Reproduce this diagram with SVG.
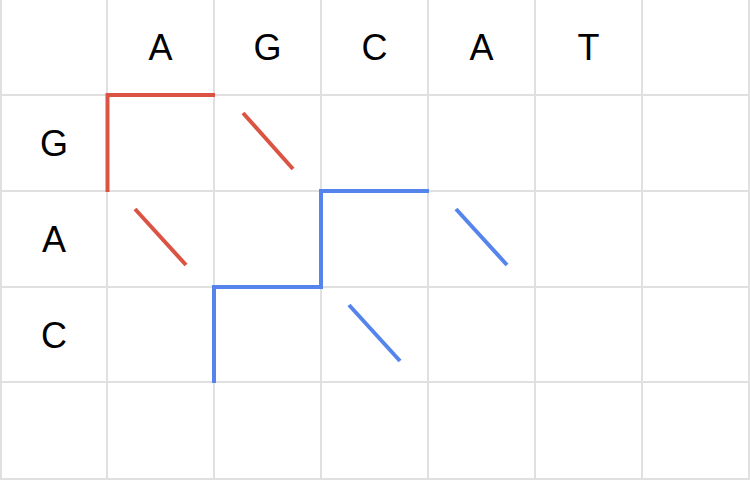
<svg xmlns="http://www.w3.org/2000/svg" width="750" height="480" viewBox="0 0 750 480">
<style>
.grid line{stroke:#e0e0e0;stroke-width:2}
text{font-family:"Liberation Sans",Arial,sans-serif;font-size:36px;fill:#000;text-anchor:middle}
.red{stroke:#db5443;stroke-width:4;fill:none}
.blue{stroke:#5585ec;stroke-width:4;fill:none}
</style>
<rect width="750" height="480" fill="#fff"/>
<g class="grid">
<line x1="1" y1="0" x2="1" y2="480"/>
<line x1="107" y1="0" x2="107" y2="480"/>
<line x1="214" y1="0" x2="214" y2="480"/>
<line x1="321" y1="0" x2="321" y2="480"/>
<line x1="428" y1="0" x2="428" y2="480"/>
<line x1="535" y1="0" x2="535" y2="480"/>
<line x1="642" y1="0" x2="642" y2="480"/>
<line x1="749" y1="0" x2="749" y2="480"/>
<line x1="0" y1="95" x2="750" y2="95"/>
<line x1="0" y1="191" x2="750" y2="191"/>
<line x1="0" y1="287" x2="750" y2="287"/>
<line x1="0" y1="382" x2="750" y2="382"/>
<line x1="0" y1="479" x2="750" y2="479"/>
</g>
<g id="labels">
<text x="160.5" y="60">A</text>
<text x="267.5" y="60">G</text>
<text x="374.5" y="60">C</text>
<text x="481.5" y="60">A</text>
<text x="588.5" y="60">T</text>
<text x="54" y="156">G</text>
<text x="54" y="252">A</text>
<text x="54" y="348">C</text>
</g>
<g id="connectors">
<path class="red" d="M107.5,192 V95 H215"/>
<line class="red" x1="243" y1="113" x2="293" y2="169"/>
<line class="red" x1="135" y1="209" x2="186" y2="265"/>
<path class="blue" d="M214,383 V287 H321 V191 H429"/>
<line class="blue" x1="456" y1="209" x2="507" y2="265"/>
<line class="blue" x1="349" y1="305" x2="400" y2="361"/>
</g>
</svg>
